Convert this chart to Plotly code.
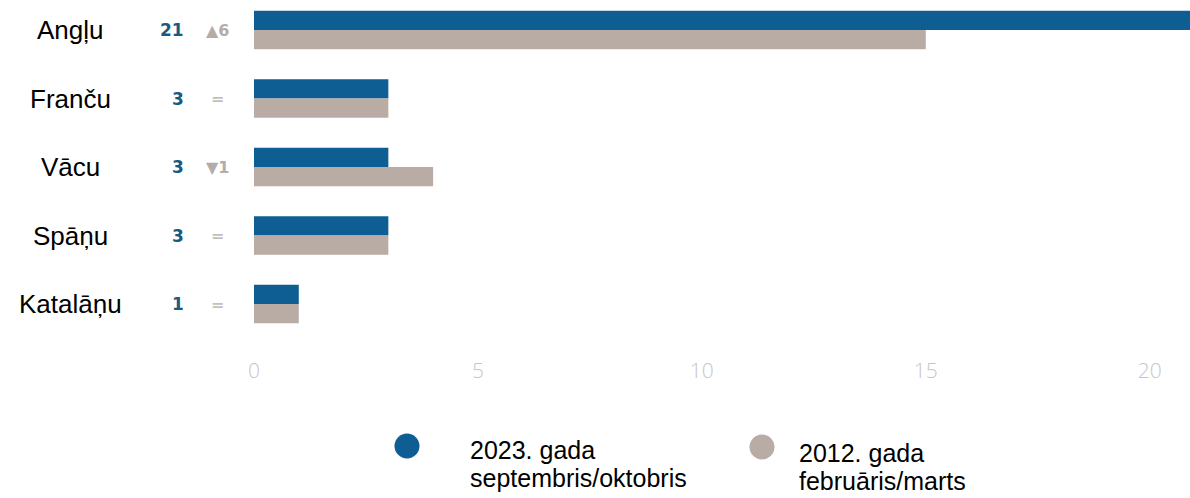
import plotly.graph_objects as go

# Languages and counts for the two survey periods
languages = ["Angļu", "Franču", "Vācu", "Spāņu", "Katalāņu"]
values_2023 = [21, 3, 3, 3, 1]
values_2012 = [15, 3, 4, 3, 1]
series_names = ["2023. gada septembris/oktobris", "2012. gada februāris/marts"]
legend_lines = [["2023. gada", "septembris/oktobris"], ["2012. gada", "februāris/marts"]]
x_ticks = [0, 5, 10, 15, 20]

BLUE = "#0e5e93"
BEIGE = "#b8aca5"
VALUE_BLUE = "#1b5a80"
CHANGE_GREY = "#b3aca8"

W, H = 1190, 498
LEFT, BOTTOM = 254, 148
PLOT_H = H - BOTTOM
ROW = 68.5          # pixels per category row
FIRST_CENTER = 30   # pixel offset of the first row centre

fig = go.Figure()
fig.add_trace(go.Bar(y=languages, x=values_2023, orientation="h", name=series_names[0],
                     marker=dict(color=BLUE, line=dict(width=0)), showlegend=False))
fig.add_trace(go.Bar(y=languages, x=values_2012, orientation="h", name=series_names[1],
                     marker=dict(color=BEIGE, line=dict(width=0)), showlegend=False))

annotations = []
for lang, v_new, v_old in zip(languages, values_2023, values_2012):
    # category name
    annotations.append(dict(x=0, xref="paper", y=lang, yref="y", text=lang, showarrow=False,
                            xanchor="center", xshift=-184,
                            font=dict(family="Liberation Sans, Arial", size=26, color="#000000")))
    # current value
    annotations.append(dict(x=0, xref="paper", y=lang, yref="y", text=str(v_new), showarrow=False,
                            xanchor="right", xshift=-68,
                            font=dict(family="DejaVu Sans", size=17, color=VALUE_BLUE, weight="bold")))
    # change since the earlier period
    diff = v_new - v_old
    if diff > 0:
        change, col = f"▲{diff}", CHANGE_GREY
    elif diff < 0:
        change, col = f"▼{abs(diff)}", CHANGE_GREY
    else:
        change, col = "=", "#c4c0bc"
    annotations.append(dict(x=0, xref="paper", y=lang, yref="y", text=change, showarrow=False,
                            xanchor="center", xshift=-37,
                            font=dict(family="DejaVu Sans", size=16, color=col, weight="bold")))

# custom legend with large round swatches
shapes = []
legend_items = [(407, 446, BLUE, 468, 450), (762, 447, BEIGE, 797, 453)]
for (cx, cy, col, tx, ty), lines in zip(legend_items, legend_lines):
    r = 12.5
    shapes.append(dict(type="circle", xref="paper", yref="paper",
                       x0=(cx - r - LEFT) / (W - LEFT), x1=(cx + r - LEFT) / (W - LEFT),
                       y0=(PLOT_H - (cy + r)) / PLOT_H, y1=(PLOT_H - (cy - r)) / PLOT_H,
                       fillcolor=col, line=dict(width=0)))
    for i, line in enumerate(lines):
        annotations.append(dict(xref="paper", yref="paper",
                                x=(tx - LEFT) / (W - LEFT), y=(PLOT_H - (ty + i * 28)) / PLOT_H,
                                text=line, showarrow=False, xanchor="left", yanchor="middle",
                                font=dict(family="Liberation Sans, Arial", size=25, color="#000000")))

y_top = -FIRST_CENTER / ROW
y_bottom = y_top + PLOT_H / ROW

fig.update_layout(
    width=W, height=H,
    margin=dict(l=LEFT, r=0, t=0, b=BOTTOM, pad=0),
    paper_bgcolor="white", plot_bgcolor="white",
    barmode="group", bargap=0.435, bargroupgap=0,
    showlegend=False,
    annotations=annotations, shapes=shapes,
    xaxis=dict(range=[0, 20.9], tickvals=x_ticks, showgrid=False, zeroline=False,
               showline=False, ticks="", ticklabelstandoff=6,
               tickfont=dict(family="Open Sans", size=21, color="#c6c6c6", weight=300)),
    yaxis=dict(range=[y_bottom, y_top], showticklabels=False, showgrid=False,
               zeroline=False, showline=False, ticks=""),
)

fig.write_html("out.html")
